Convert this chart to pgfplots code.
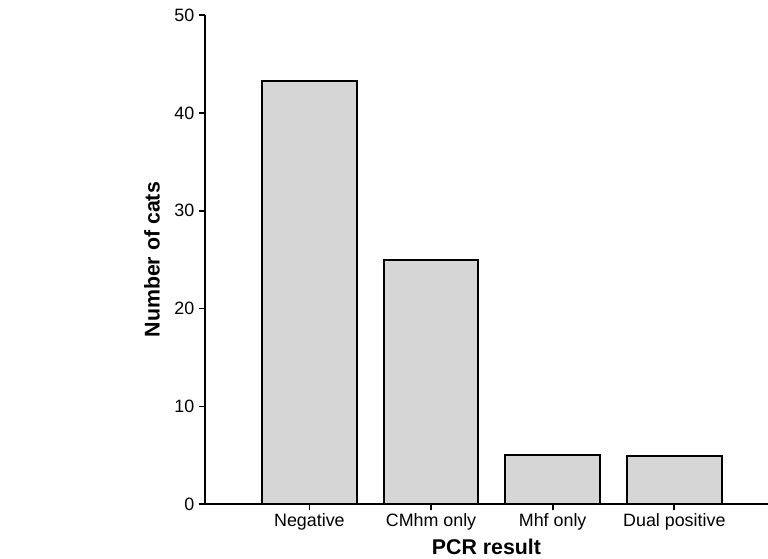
\documentclass[border=0pt]{standalone}
\usepackage{fontspec}
\setmainfont{Liberation Sans}
\usepackage{pgfplots}
\pgfplotsset{compat=1.18}
\definecolor{barfill}{RGB}{214,214,214}
\begin{document}
\begin{tikzpicture}[x=1pt,y=1pt]
\begin{axis}[
  scale only axis,
  width=422.25pt, height=366.98pt,
  xmin=-0.858, xmax=3.77,
  ymin=0, ymax=50,
  axis x line=bottom, axis y line=left,
  axis line style={-, line width=1.5pt},
  ytick={0,10,20,30,40,50},
  xtick={0,1,2,3},
  xticklabels={Negative,CMhm only,Mhf only,Dual positive},
  tick align=outside,
  major tick length=4.5pt,
  tick style={line width=1.3pt, black},
  ticklabel style={font=\fontsize{13.4}{16}\selectfont},
  /pgf/number format/assume math mode=true,
  xticklabel style={yshift=1pt},
  ylabel={Number of cats},
  xlabel={PCR result},
  label style={font=\fontsize{16}{19}\selectfont\bfseries},
  ylabel style={at={(axis description cs:-0.0941,0.5)}, anchor=center},
  xlabel style={at={(axis description cs:0.5,-0.0875)}, anchor=center},
  clip=false,
]
\addplot[ybar, bar width=0.776, fill=barfill, draw=black, line width=1.5pt]
  coordinates {(0,43.3) (1,25) (2,5) (3,4.9)};
\coordinate (O) at (rel axis cs:0,0);
\end{axis}
\pgfresetboundingbox
\path (O) ++(-153.75pt,-40.275pt) rectangle ++(576pt,418.5pt);
\end{tikzpicture}
\end{document}
